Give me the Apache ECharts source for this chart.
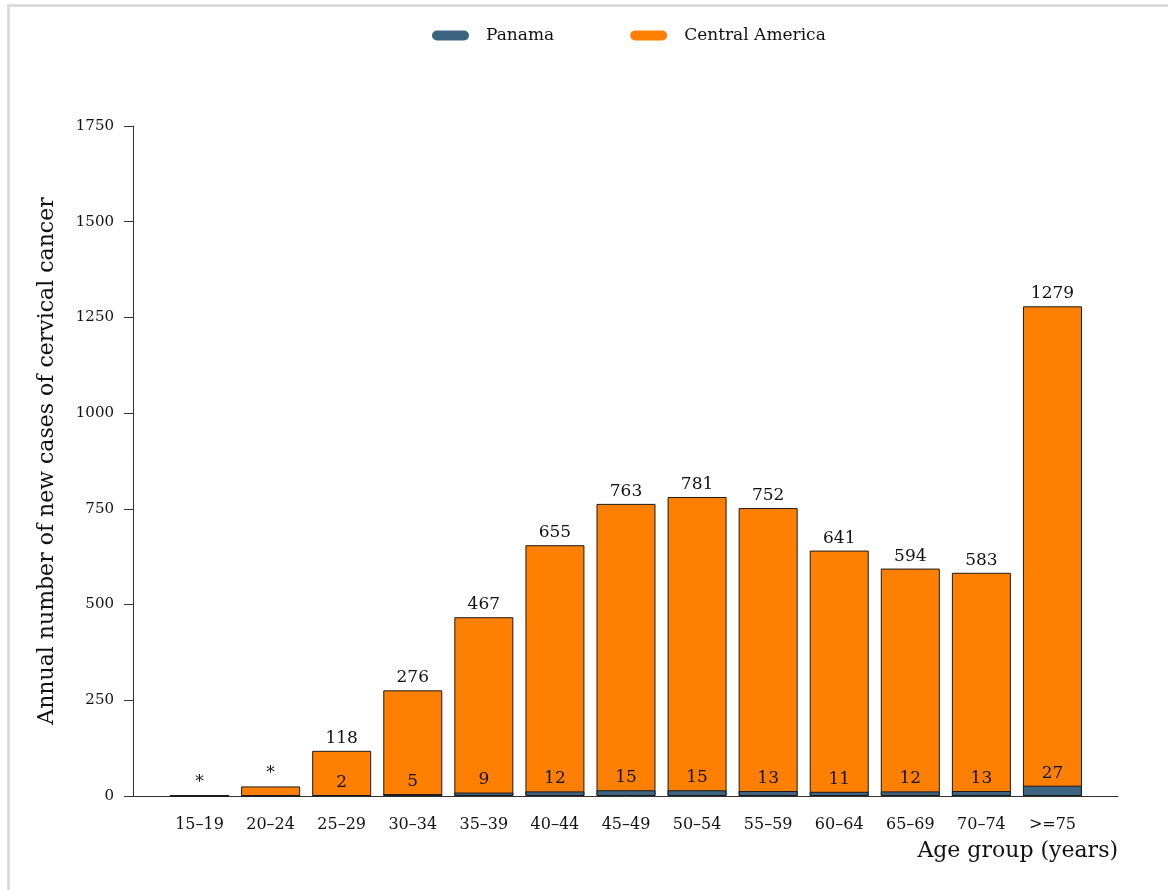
<!DOCTYPE html>
<html>
<head>
<meta charset="utf-8">
<script src="https://cdn.jsdelivr.net/npm/echarts@6/dist/echarts.min.js"></script>
<style>
  html, body { margin: 0; padding: 0; background: #fff; overflow: hidden; }
  #frame { position: absolute; left: 7px; top: 4px; width: 1300px; height: 1000px;
           border-left: 3px solid #dcdcdc; border-top: 3px solid #dcdcdc; }
  #chart { position: absolute; left: 0; top: 0; width: 1168px; height: 890px; }
</style>
</head>
<body>
<div id="frame"></div>
<div id="chart"></div>
<script>
var ageGroups = ['15\u201319', '20\u201324', '25\u201329', '30\u201334', '35\u201339', '40\u201344', '45\u201349',
                 '50\u201354', '55\u201359', '60\u201364', '65\u201369', '70\u201374', '>=75'];
var centralAmerica = [2, 25, 118, 276, 467, 655, 763, 781, 752, 641, 594, 583, 1279];
var panama = [0, 0, 2, 5, 9, 12, 15, 15, 13, 11, 12, 13, 27];
// groups where counts are suppressed and shown as '*'
var suppressed = [true, true, false, false, false, false, false, false, false, false, false, false, false];

(function() {
  var font = '"DejaVu Serif", serif';
  var ink = '#111';
  var axisColor = '#333';
  var orange = '#ff8000';
  var blue = '#3d6480';
  var pill = 'path://M5,0 H32 A5,5 0 0 1 32,10 H5 A5,5 0 0 1 5,0 Z';

  var chart = echarts.init(document.getElementById('chart'), null, { renderer: 'canvas' });
  chart.setOption({
    animation: false,
    backgroundColor: 'transparent',
    textStyle: { fontFamily: font },
    legend: {
      data: [
        { name: 'Panama', icon: pill },
        { name: 'Central America', icon: pill }
      ],
      top: 22,
      left: 427,
      itemWidth: 37,
      itemHeight: 10,
      itemGap: 76,
      itemStyle: { borderWidth: 0 },
      textStyle: { fontFamily: font, fontSize: 17, color: ink, padding: [0, 0, 0, 12] }
    },
    // grid 0: the visible frame (axes); grid 1: the bars, inset so the bands sit inside the axis line
    grid: [
      { left: 133, right: 50, top: 126, bottom: 94 },
      { left: 164, right: 80, top: 126, bottom: 94 }
    ],
    xAxis: [
      {
        type: 'category',
        gridIndex: 0,
        data: ageGroups,
        name: 'Age group (years)',
        nameLocation: 'end',
        nameGap: 0,
        nameTextStyle: { fontFamily: font, fontSize: 22, color: ink, align: 'right', verticalAlign: 'top', padding: [44, 0, 0, 0] },
        axisLine: { lineStyle: { color: axisColor, width: 1 } },
        axisTick: { show: false },
        axisLabel: { show: false }
      },
      {
        type: 'category',
        gridIndex: 1,
        data: ageGroups,
        axisLine: { show: false },
        axisTick: { show: false },
        axisLabel: { fontFamily: font, fontSize: 16, color: ink, margin: 21 }
      }
    ],
    yAxis: [
      {
        type: 'value',
        gridIndex: 0,
        min: 0,
        max: 1750,
        interval: 250,
        name: 'Annual number of new cases of cervical cancer',
        nameLocation: 'middle',
        nameGap: 75,
        nameTextStyle: { fontFamily: font, fontSize: 22, color: ink },
        axisLine: { show: true, lineStyle: { color: axisColor, width: 1 } },
        axisTick: { show: true, length: 9, lineStyle: { color: axisColor } },
        axisLabel: { fontFamily: font, fontSize: 15, color: ink, margin: 19, formatter: function(v) { return String(v); } },
        splitLine: { show: false }
      },
      {
        type: 'value',
        gridIndex: 1,
        min: 0,
        max: 1750,
        interval: 250,
        show: false,
        splitLine: { show: false }
      }
    ],
    series: [
      {
        name: 'Central America',
        type: 'bar',
        xAxisIndex: 1,
        yAxisIndex: 1,
        data: centralAmerica,
        barWidth: '83%',
        itemStyle: { color: orange, borderColor: '#1a1a1a', borderWidth: 1 },
        label: {
          show: true,
          position: 'top',
          distance: 4,
          fontFamily: font,
          fontSize: 17,
          color: ink,
          formatter: function(p) { return suppressed[p.dataIndex] ? '*' : p.value; }
        }
      },
      {
        name: 'Panama',
        type: 'bar',
        xAxisIndex: 1,
        yAxisIndex: 1,
        data: panama,
        barGap: '-100%',
        barWidth: '83%',
        itemStyle: { color: blue, borderColor: '#1a1a1a', borderWidth: 1 },
        label: {
          show: true,
          position: 'top',
          distance: 4,
          fontFamily: font,
          fontSize: 17,
          color: ink,
          formatter: function(p) { return suppressed[p.dataIndex] ? '' : p.value; }
        }
      }
    ]
  });

  window.addEventListener('resize', function() { chart.resize(); });
})();
</script>
</body>
</html>
